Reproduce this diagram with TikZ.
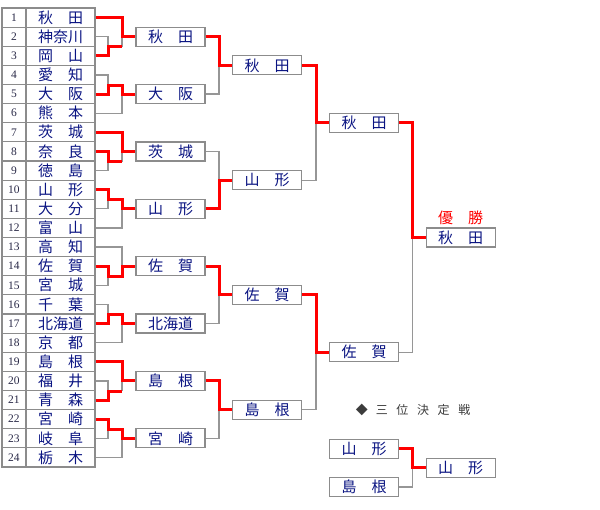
\documentclass[tikz,border=0pt]{standalone}
\usepackage{fontspec}
\usetikzlibrary{calc}
\newfontfamily\cjk{Noto Sans CJK JP}
\setmainfont{Liberation Serif}
\definecolor{navyt}{RGB}{10,20,130}
\definecolor{lgray}{RGB}{150,150,150}
\definecolor{bgray}{RGB}{140,140,140}
\definecolor{winred}{RGB}{255,0,0}
\definecolor{numc}{RGB}{40,40,70}
\definecolor{capc}{RGB}{60,60,60}
\tikzset{
  cell/.style={draw=bgray, line width=1.2pt, minimum height=19.125pt, inner sep=0pt},
  numcell/.style={cell, minimum width=24pt, font=\fontsize{11.5}{11.5}\selectfont, text=numc},
  namecell/.style={cell, minimum width=69pt, font=\cjk\fontsize{15}{15}\selectfont, text=navyt},
  tbox/.style={draw=bgray, line width=1.2pt, fill=white, minimum width=69pt, minimum height=19pt, inner sep=0pt, font=\cjk\fontsize{15}{15}\selectfont, text=navyt},
  gl/.style={draw=lgray, line width=1.2pt},
  rl/.style={draw=winred, line width=3pt, line join=miter},
}
\begin{document}
\begin{tikzpicture}[x=1pt,y=-1pt]
\useasboundingbox (0,0) rectangle (600,510);
% column x positions
\coordinate (XA) at (108,0);
\coordinate (XB) at (122,0);
\coordinate (XC) at (219,0);
\coordinate (XD) at (316,0);
\coordinate (XE) at (412.3,0);
\coordinate (X2) at (170.5,0);
\coordinate (X3) at (267.2,0);
\coordinate (X4) at (364,0);
\coordinate (X5) at (460.7,0);
% table
\foreach \i/\nm in {1/秋　田,2/神奈川,3/岡　山,4/愛　知,5/大　阪,6/熊　本,7/茨　城,8/奈　良,9/徳　島,10/山　形,11/大　分,12/富　山,13/高　知,14/佐　賀,15/宮　城,16/千　葉,17/北海道,18/京　都,19/島　根,20/福　井,21/青　森,22/宮　崎,23/岐　阜,24/栃　木}{
  \node[numcell] (n\i) at (14, {8+19.125*(\i-0.5)}) {\i};
  \node[namecell] (t\i) at (60.5, {8+19.125*(\i-0.5)}) {\nm};
}
% round 2
\node[tbox] (a1) at (t2 -| X2) {秋　田};
\node[tbox] (a2) at (t5 -| X2) {大　阪};
\node[tbox] (a3) at (t8 -| X2) {茨　城};
\node[tbox] (a4) at (t11 -| X2) {山　形};
\node[tbox] (a5) at (t14 -| X2) {佐　賀};
\node[tbox] (a6) at (t17 -| X2) {北海道};
\node[tbox] (a7) at (t20 -| X2) {島　根};
\node[tbox] (a8) at (t23 -| X2) {宮　崎};
% round 3
\coordinate (m1) at ($(a1)!0.5!(a2)$);
\coordinate (m2) at ($(a3)!0.5!(a4)$);
\coordinate (m3) at ($(a5)!0.5!(a6)$);
\coordinate (m4) at ($(a7)!0.5!(a8)$);
\node[tbox] (b1) at (m1 -| X3) {秋　田};
\node[tbox] (b2) at (m2 -| X3) {山　形};
\node[tbox] (b3) at (m3 -| X3) {佐　賀};
\node[tbox] (b4) at (m4 -| X3) {島　根};
% semis
\coordinate (m5) at ($(b1)!0.5!(b2)$);
\coordinate (m6) at ($(b3)!0.5!(b4)$);
\node[tbox] (c1) at (m5 -| X4) {秋　田};
\node[tbox] (c2) at (m6 -| X4) {佐　賀};
% final
\coordinate (m7) at ($(c1)!0.5!(c2)$);
\node[tbox] (w) at (m7 -| X5) {秋　田};
\node[font=\cjk\fontsize{15}{15}\selectfont, text=winred, inner sep=0pt] (champ) at (460.7,218.3) {優　勝};
% third place
\node[font=\cjk\fontsize{12}{12}\selectfont, text=capc, inner sep=0pt, anchor=west] (cap) at (355.7,410) {◆\kern8pt三\kern8.6pt位\kern8.6pt決\kern8.6pt定\kern8.6pt戦};
\node[tbox] (s1) at (364,448.8) {山　形};
\node[tbox] (s2) at (364,487) {島　根};
\coordinate (m8) at ($(s1)!0.5!(s2)$);
\node[tbox] (s3) at (m8 -| X5) {山　形};

% ---------- round 1 connectors ----------
% group 1-3
\draw[gl] (t2.east) -- (t2.east -| XA) -- (t2.south east -| XA);
\draw[gl] (t2.south east -| XB) -- (a1.west -| XB);
\draw[rl] (t3.east) -- (t3.east -| XA) -- (t2.south east -| XA) -- (t2.south east -| XB);
\draw[rl] (t1.east) -- (t1.east -| XB) -- (a1.west -| XB) -- (a1.west);
% group 4-6
\draw[gl] (t4.east) -- (t4.east -| XA) -- (t4.south east -| XA);
\draw[gl] (t6.east) -- (t6.east -| XB) -- (a2.west -| XB);
\draw[rl] (t5.east) -- (t5.east -| XA) -- (t4.south east -| XA) -- (t4.south east -| XB) -- (a2.west -| XB) -- (a2.west);
% group 7-9
\draw[gl] (t9.east) -- (t9.east -| XA) -- (t8.south east -| XA);
\draw[gl] (t8.south east -| XB) -- (a3.west -| XB);
\draw[rl] (t8.east) -- (t8.east -| XA) -- (t8.south east -| XA) -- (t8.south east -| XB);
\draw[rl] (t7.east) -- (t7.east -| XB) -- (a3.west -| XB) -- (a3.west);
% group 10-12
\draw[gl] (t11.east) -- (t11.east -| XA) -- (t10.south east -| XA);
\draw[gl] (t12.east) -- (t12.east -| XB) -- (a4.west -| XB);
\draw[rl] (t10.east) -- (t10.east -| XA) -- (t10.south east -| XA) -- (t10.south east -| XB) -- (a4.west -| XB) -- (a4.west);
% group 13-15
\draw[gl] (t15.east) -- (t15.east -| XA) -- (t14.south east -| XA);
\draw[gl] (t13.east) -- (t13.east -| XB) -- (a5.west -| XB);
\draw[rl] (t14.east) -- (t14.east -| XA) -- (t14.south east -| XA) -- (t14.south east -| XB) -- (a5.west -| XB) -- (a5.west);
% group 16-18
\draw[gl] (t16.east) -- (t16.east -| XA) -- (t16.south east -| XA);
\draw[gl] (t18.east) -- (t18.east -| XB) -- (a6.west -| XB);
\draw[rl] (t17.east) -- (t17.east -| XA) -- (t16.south east -| XA) -- (t16.south east -| XB) -- (a6.west -| XB) -- (a6.west);
% group 19-21
\draw[gl] (t20.east) -- (t20.east -| XA) -- (t20.south east -| XA);
\draw[gl] (t20.south east -| XB) -- (a7.west -| XB);
\draw[rl] (t21.east) -- (t21.east -| XA) -- (t20.south east -| XA) -- (t20.south east -| XB);
\draw[rl] (t19.east) -- (t19.east -| XB) -- (a7.west -| XB) -- (a7.west);
% group 22-24
\draw[gl] (t23.east) -- (t23.east -| XA) -- (t22.south east -| XA);
\draw[gl] (t24.east) -- (t24.east -| XB) -- (a8.west -| XB);
\draw[rl] (t22.east) -- (t22.east -| XA) -- (t22.south east -| XA) -- (t22.south east -| XB) -- (a8.west -| XB) -- (a8.west);

% ---------- round 2 -> 3 ----------
\draw[gl] (a2.east) -- (a2.east -| XC) -- (b1.west -| XC);
\draw[rl] (a1.east) -- (a1.east -| XC) -- (b1.west -| XC) -- (b1.west);
\draw[gl] (a3.east) -- (a3.east -| XC) -- (b2.west -| XC);
\draw[rl] (a4.east) -- (a4.east -| XC) -- (b2.west -| XC) -- (b2.west);
\draw[gl] (a6.east) -- (a6.east -| XC) -- (b3.west -| XC);
\draw[rl] (a5.east) -- (a5.east -| XC) -- (b3.west -| XC) -- (b3.west);
\draw[gl] (a8.east) -- (a8.east -| XC) -- (b4.west -| XC);
\draw[rl] (a7.east) -- (a7.east -| XC) -- (b4.west -| XC) -- (b4.west);
% ---------- round 3 -> semis ----------
\draw[gl] (b2.east) -- (b2.east -| XD) -- (c1.west -| XD);
\draw[rl] (b1.east) -- (b1.east -| XD) -- (c1.west -| XD) -- (c1.west);
\draw[gl] (b4.east) -- (b4.east -| XD) -- (c2.west -| XD);
\draw[rl] (b3.east) -- (b3.east -| XD) -- (c2.west -| XD) -- (c2.west);
% ---------- final ----------
\draw[gl] (c2.east) -- (c2.east -| XE) -- (w.west -| XE);
\draw[rl] (c1.east) -- (c1.east -| XE) -- (w.west -| XE) -- (w.west);
% ---------- third place ----------
\draw[gl] (s2.east) -- (s2.east -| XE) -- (s3.west -| XE);
\draw[rl] (s1.east) -- (s1.east -| XE) -- (s3.west -| XE) -- (s3.west);
\end{tikzpicture}
\end{document}
